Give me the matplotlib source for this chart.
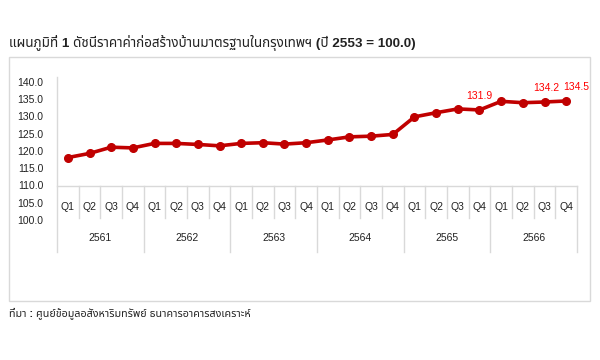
import matplotlib.pyplot as plt
from matplotlib.patches import Rectangle

thai = ['Liberation Sans', 'Noto Sans Thai', 'Noto Sans Thai Looped', 'Loma', 'Garuda',
        'Tlwg Typo', 'DejaVu Sans']
plt.rcParams['font.family'] = ['Liberation Sans', 'DejaVu Sans']

# data
years = ['2561', '2562', '2563', '2564', '2565', '2566']
quarters = ['Q1', 'Q2', 'Q3', 'Q4']
index_values = [118.1, 119.3, 121.1, 120.9,
                122.2, 122.2, 121.9, 121.5,
                122.2, 122.4, 122.0, 122.4,
                123.2, 124.1, 124.3, 124.8,
                129.9, 131.1, 132.2, 131.9,
                134.4, 134.0, 134.2, 134.5]
labelled = {19: '131.9', 22: '134.2', 23: '134.5'}
yticks = [100, 105, 110, 115, 120, 125, 130, 135, 140]

title = 'แผนภูมิที่ 1 ดัชนีราคาค่าก่อสร้างบ้านมาตรฐานในกรุงเทพฯ (ปี 2553 = 100.0)'
source = 'ที่มา : ศูนย์ข้อมูลอสังหาริมทรัพย์ ธนาคารอาคารสงเคราะห์'

fig = plt.figure(figsize=(6, 3.6), dpi=100)
W, H = 600, 360
grid_c = '#d9d9d9'
txt_c = '#222222'

# outer frame
fig.patches.append(Rectangle((9 / W, 1 - 301 / H), 581 / W, 244 / H,
                             transform=fig.transFigure, fill=False,
                             edgecolor=grid_c, lw=1))

ax = fig.add_axes([57 / W, 1 - 220 / H, 520 / W, 138 / H])
ax.patch.set_alpha(0)
for s in ax.spines.values():
    s.set_visible(False)

n = len(index_values)
xs = list(range(n))
ax.plot(xs, index_values, color='#C00000', lw=2.6, marker='o', ms=5.5, zorder=3)
nudge = {19: 0.0, 22: 0.1, 23: 0.45}
for i, lab in labelled.items():
    ax.text(xs[i] + nudge[i], index_values[i] + 2.6, lab, color='#FF0000',
            fontsize=7.5, ha='center', va='bottom')

ax.set_xlim(-0.5, n - 0.5)
ax.set_ylim(100, 140)
ax.set_yticks(yticks)
ax.set_yticklabels([f'{v:.1f}' for v in yticks], fontsize=7.5, color=txt_c)
ax.tick_params(axis='y', length=0, pad=10)
ax.set_xticks([])

# category axis crossing at 110
ax.plot([-0.5, n - 0.5], [110, 110], color=grid_c, lw=1, clip_on=False)
ax.plot([-0.5, -0.5], [90.7, 141.5], color=grid_c, lw=1, clip_on=False)
for i in range(n):
    ax.text(i, 103.8, quarters[i % 4], ha='center', va='center', fontsize=7.5,
            color=txt_c)
    if i % 4 != 0:
        ax.plot([i - 0.5, i - 0.5], [110, 100.6], color=grid_c, lw=1, clip_on=False)
for k, yr in enumerate(years):
    ax.plot([4 * k + 3.5] * 2, [110, 90.7], color=grid_c, lw=1, clip_on=False)
    ax.text(4 * k + 1.5, 94.8, yr, ha='center', va='center', fontsize=7.5,
            color=txt_c)

fig.text(9 / W, 1 - 43 / H, title, fontsize=9.7, fontweight='bold', family=thai,
         ha='left', va='center', color=txt_c)
fig.text(9 / W, 1 - 313 / H, source, fontsize=7.7, fontweight='bold', family=thai,
         ha='left', va='center', color=txt_c)

fig.savefig('out.png', dpi=100)
